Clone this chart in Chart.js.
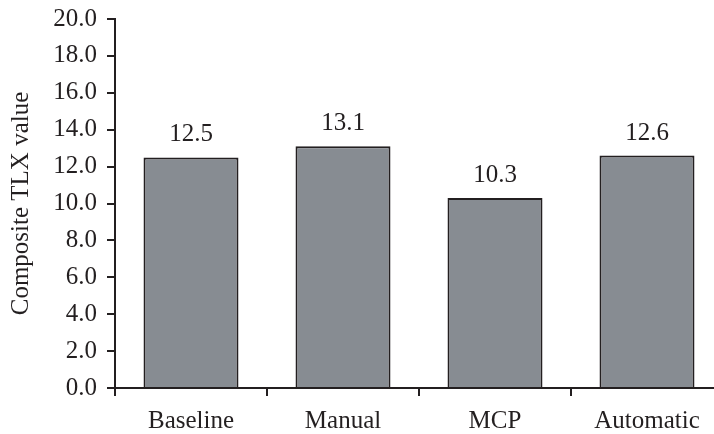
<!DOCTYPE html>
<html>
<head>
<meta charset="utf-8">
<script src="https://cdn.jsdelivr.net/npm/chart.js@4"></script>
<style>
  html, body { margin: 0; padding: 0; background: #fff; overflow: hidden; }
  #wrap { width: 730px; height: 434px; }
</style>
</head>
<body>
<div id="wrap"><canvas id="c" width="730" height="434"></canvas></div>
<script>
// Mean composite TLX workload per condition
const categories = ['Baseline', 'Manual', 'MCP', 'Automatic'];
const tlxValues = [12.5, 13.1, 10.3, 12.6];
const yTicks = [0, 2, 4, 6, 8, 10, 12, 14, 16, 18, 20];

const INK = '#231f20';
const FONT = "'Liberation Serif', 'Times New Roman', Times, serif";
const FONT_SIZE = 25;

// Prints each bar's value above it
const barValueLabels = {
  id: 'barValueLabels',
  afterDatasetsDraw(chart) {
    const ctx = chart.ctx;
    const meta = chart.getDatasetMeta(0);
    const data = chart.data.datasets[0].data;
    ctx.save();
    ctx.font = FONT_SIZE + 'px ' + FONT;
    ctx.fillStyle = INK;
    ctx.textAlign = 'center';
    ctx.textBaseline = 'alphabetic';
    meta.data.forEach((bar, i) => {
      ctx.fillText(data[i].toFixed(1), bar.x, bar.y - 16);
    });
    ctx.restore();
  }
};

function draw() {
  new Chart(document.getElementById('c'), {
    type: 'bar',
    data: {
      labels: categories,
      datasets: [{
        data: tlxValues,
        backgroundColor: '#878c92',
        borderColor: INK,
        borderWidth: 2,
        categoryPercentage: 1,
        barPercentage: 0.625
      }]
    },
    options: {
      responsive: false,
      animation: false,
      layout: { padding: { top: 19, right: 7, bottom: 0, left: 0 } },
      plugins: { legend: { display: false }, tooltip: { enabled: false } },
      scales: {
        x: {
          grid: { display: true, drawOnChartArea: false, drawTicks: true, tickLength: 8, color: INK, lineWidth: 2, offset: true },
          border: { display: true, color: INK, width: 2 },
          ticks: { color: INK, font: { family: FONT, size: FONT_SIZE }, padding: 10, maxRotation: 0 },
          afterFit(scale) { scale.height = 46; }
        },
        y: {
          min: 0,
          max: 20,
          afterBuildTicks(scale) { scale.ticks = yTicks.map(v => ({ value: v })); },
          grid: { display: true, drawOnChartArea: false, drawTicks: true, tickLength: 8, color: INK, lineWidth: 2 },
          border: { display: true, color: INK, width: 2 },
          ticks: {
            color: INK,
            font: { family: FONT, size: FONT_SIZE },
            padding: 10,
            callback: (v) => Number(v).toFixed(1)
          },
          title: {
            display: true,
            text: 'Composite TLX value',
            color: INK,
            font: { family: FONT, size: FONT_SIZE },
            padding: { top: 6, bottom: 0 }
          },
          afterFit(scale) {
            scale.width = 115;
            scale.paddingTop = 0;
            scale.paddingBottom = 0;
          }
        }
      }
    },
    plugins: [barValueLabels]
  });
}

document.fonts.load(FONT_SIZE + "px 'Liberation Serif'").then(draw, draw);
</script>
</body>
</html>
